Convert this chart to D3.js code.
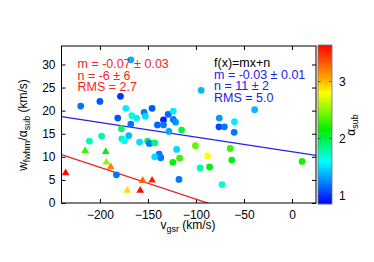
<!DOCTYPE html>
<html>
<head>
<meta charset="utf-8">
<script src="https://cdn.jsdelivr.net/npm/d3@7"></script>
<style>
  body { margin: 0; background: #fff; }
  text { font-family: "Liberation Sans", Arial, sans-serif; }
</style>
</head>
<body>
<div id="canvas"></div>
<script>
// circles: [v_gsr, w/alpha, alpha]
var circles = [
  [-220,21.0,1.2],[-200,22.0,1.1],[-178.6,23.1,1.0],[-167.8,31.0,1.35],[-173,20.5,1.55],
  [-181.4,18.4,1.1],[-166.7,18.9,1.7],[-167.8,17.1,1.2],[-161.8,18.4,1.55],[-177.6,16.1,1.9],
  [-177.2,13.9,1.75],[-174.4,13.5,1.6],[-169.9,14.6,1.4],[-198.2,14.5,1.8],[-210.9,13.4,1.75],
  [-154,19.6,1.2],[-152.7,18.8,1.5],[-145.7,20.5,1.1],[-158.7,13.2,1.5],[-150.3,13.4,2.0],
  [-148.5,12.9,1.2],[-142.9,13.0,1.9],[-140.1,16.9,1.15],[-133.8,18.0,0.95],[-133.8,16.9,1.2],
  [-128.9,19.2,1.15],[-123.6,19.9,1.55],[-123.6,18.1,1.2],[-121.2,17.5,1.3],[-128.2,15.5,1.35],
  [-114.9,15.8,2.0],[-120.1,11.6,1.5],[-138.3,10.6,1.2],[-142.9,10.0,1.5],[-136.6,9.8,1.2],
  [-124,8.8,2.1],[-117,9.7,2.3],[-117.7,5.1,1.2],[-182.8,6.1,1.2],[-94.6,24.4,1.4],
  [-100.5,12.4,2.4],[-95.6,7.6,1.75],[-87.9,10.2,2.8],[-85.8,7.8,2.1],[-75.7,18.4,1.3],
  [-76,16.5,1.05],[-70.4,16.5,1.2],[-59.9,17.6,1.55],[-60.2,15.3,1.2],[-64.4,11.8,2.3],
  [-62.7,9.3,2.1],[-72.9,4.0,1.7],[-38.9,20.2,1.4],[10.5,9.0,2.2]
];
var triangles = [
  [-235.7,6.5,3.6],[-215.4,11.3,2.3],[-194,11.1,2.1],[-193.3,8.8,2.5],[-188.8,7.8,3.2],
  [-171.6,2.7,2.9],[-158,2.7,3.6],[-155.5,4.8,3.3],[-145.7,4.9,3.55]
];
var xTicks = [-200,-150,-100,-50,0];
var yTicks = [0,5,10,15,20,25,30];
var cTicks = [1,2,3];
// fits: f(x) = m x + n
var fitBlue = {m:-0.0317, n:11.1};
var fitRed = {m:-0.069, n:-6.07};
var redText = ["m = -0.07 \u00b1 0.03","n = -6 \u00b1 6","RMS = 2.7"];
var blueText = ["m = -0.03 \u00b1 0.01","n = 11 \u00b1 2","RMS = 5.0"];

var W = 374, H = 262;
var m = {t:46, r:58, b:59, l:61.5};
var w = W - m.l - m.r, h = H - m.t - m.b;

var svg = d3.select('#canvas').append('svg').attr('width',W).attr('height',H);
var plot = svg.append('g').attr('transform','translate('+m.l+','+m.t+')');

var x = d3.scaleLinear().domain([-240,25]).range([0,w]);
var y = d3.scaleLinear().domain([0,34]).range([h,0]);
var color = d3.scaleLinear()
  .domain([0.85,1.6,2.15,2.8,3.1,3.65])
  .range(['#0000ff','#00ffff','#00ee00','#ffff00','#ff9900','#ff0000'])
  .clamp(true);

plot.append('defs').append('clipPath').attr('id','clip')
  .append('rect').attr('width',w).attr('height',h);

// axes (inward ticks, mirrored)
function styleAxis(g){
  g.select('.domain').remove();
  g.selectAll('line').attr('stroke','#000');
  g.selectAll('text').style('font-size','12px').attr('fill','#000');
}
plot.append('g').attr('transform','translate(0,'+h+')')
  .call(d3.axisBottom(x).tickValues(xTicks).tickSize(-4).tickPadding(7).tickFormat(d3.format('d')))
  .call(styleAxis);
plot.append('g')
  .call(d3.axisTop(x).tickValues(xTicks).tickSize(-4).tickFormat(''))
  .call(styleAxis);
plot.append('g')
  .call(d3.axisLeft(y).tickValues(yTicks).tickSize(-4).tickPadding(6))
  .call(styleAxis);
plot.append('g').attr('transform','translate('+w+',0)')
  .call(d3.axisRight(y).tickValues(yTicks).tickSize(-4).tickFormat(''))
  .call(styleAxis);

// fit lines
var lineG = plot.append('g').attr('clip-path','url(#clip)');
[[fitBlue,'#2222ee'],[fitRed,'#ee2222']].forEach(function(f){
  var xs = [-240,25];
  lineG.append('line')
    .attr('x1',x(xs[0])).attr('y1',y(f[0].m*xs[0]+f[0].n))
    .attr('x2',x(xs[1])).attr('y2',y(f[0].m*xs[1]+f[0].n))
    .attr('stroke',f[1]).attr('stroke-width',1.3);
});

// points
plot.selectAll('.pt').data(circles).enter().append('circle')
  .attr('cx',function(d){return x(d[0]);})
  .attr('cy',function(d){return y(d[1]);})
  .attr('r',3.4)
  .attr('fill',function(d){return color(d[2]);});
var tri = d3.symbol().type(d3.symbolTriangle).size(26);
plot.selectAll('.tri').data(triangles).enter().append('path')
  .attr('d',tri)
  .attr('transform',function(d){return 'translate('+x(d[0])+','+y(d[1])+')';})
  .attr('fill',function(d){return color(d[2]);});

// frame
plot.append('rect').attr('width',w).attr('height',h)
  .attr('fill','none').attr('stroke','#000').attr('stroke-width',1);

// annotations
var tr = plot.append('text').attr('x',16).attr('y',22).attr('fill','#ff2020').style('font-size','12.5px');
redText.forEach(function(t,i){ tr.append('tspan').attr('x',16).attr('dy',i?11.6:0).text(t); });
var tb = plot.append('text').attr('x',152.5).attr('y',21).style('font-size','12.5px');
tb.append('tspan').attr('x',152.5).attr('fill','#000').text('f(x)=mx+n');
blueText.forEach(function(t){ tb.append('tspan').attr('x',152.5).attr('dy',11.6).attr('fill','#2020ee').text(t); });

// axis labels
var xl = svg.append('text').attr('x',188).attr('y',228.5).attr('text-anchor','middle')
  .style('font-size','12px');
xl.append('tspan').text('v');
xl.append('tspan').attr('dy',3).style('font-size','9px').text('gsr');
xl.append('tspan').attr('dy',-3).text(' (km/s)');

var yl = svg.append('text').attr('transform','translate(27,125) rotate(-90)')
  .attr('text-anchor','middle').style('font-size','12px');
yl.append('tspan').text('w');
yl.append('tspan').attr('dy',3).style('font-size','9px').text('fwhm');
yl.append('tspan').attr('dy',-3).text('/\u03b1');
yl.append('tspan').attr('dy',3).style('font-size','9px').text('sub');
yl.append('tspan').attr('dy',-3).text(' (km/s)');

// colorbar
var cb = svg.append('g').attr('transform','translate(318,45)');
var cbW = 14, cbH = 159;
var c = d3.scaleLinear().domain([0.855,3.64]).range([cbH,0]);
var steps = d3.range(0,cbH,1);
cb.selectAll('.cb').data(steps).enter().append('rect')
  .attr('x',0).attr('y',function(d){return d;})
  .attr('width',cbW).attr('height',1.2)
  .attr('fill',function(d){return color(c.invert(d+0.5));});
cb.append('rect').attr('width',cbW).attr('height',cbH)
  .attr('fill','none').attr('stroke','#777').attr('stroke-width',0.8);
cTicks.forEach(function(t){
  cb.append('line').attr('x1',0).attr('x2',3).attr('y1',c(t)).attr('y2',c(t))
    .attr('stroke','#333').attr('stroke-dasharray','1.5,1');
  cb.append('line').attr('x1',cbW-3).attr('x2',cbW).attr('y1',c(t)).attr('y2',c(t))
    .attr('stroke','#333').attr('stroke-dasharray','1.5,1');
  cb.append('text').attr('x',21).attr('y',c(t)+4.5).style('font-size','12px').text(t);
});
var cl = svg.append('text').attr('transform','translate(355,125) rotate(-90)')
  .attr('text-anchor','middle').style('font-size','12px');
cl.append('tspan').text('\u03b1');
cl.append('tspan').attr('dy',3).style('font-size','9px').text('sub');
</script>
</body>
</html>
